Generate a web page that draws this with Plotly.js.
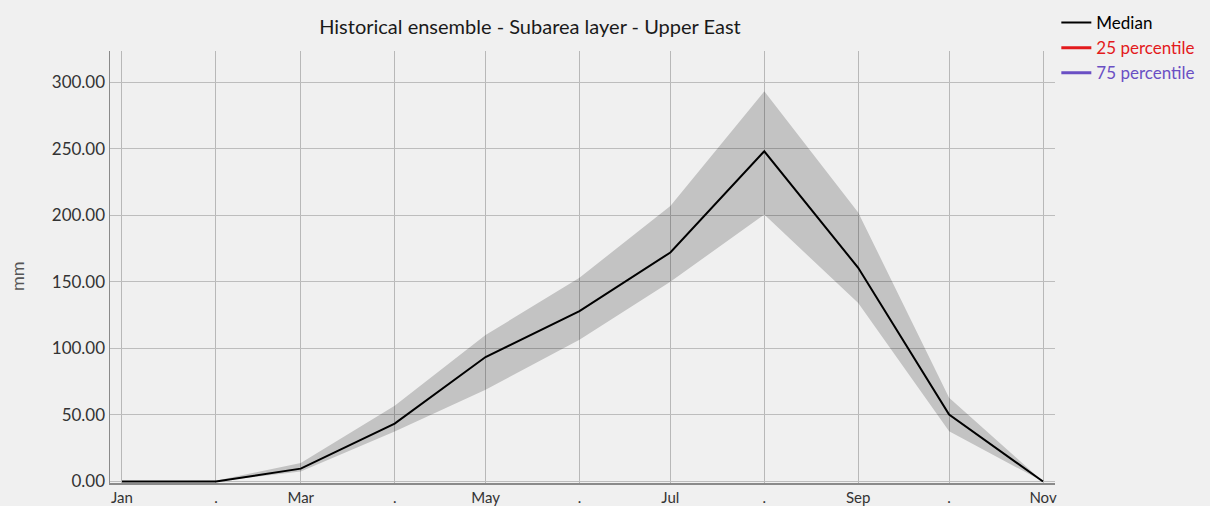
<!DOCTYPE html>
<html>
<head>
<meta charset="utf-8">
<script src="https://cdn.plot.ly/plotly-3.0.1.min.js"></script>
<style>html,body{margin:0;padding:0;background:#f0f0f0;}#chart{width:1210px;height:506px;}</style>
</head>
<body>
<div id="chart"></div>
<script>
// Month starts (date axis, days scale)
var months = ['2001-01-01','2001-02-01','2001-03-01','2001-04-01','2001-05-01','2001-06-01','2001-07-01','2001-08-01','2001-09-01','2001-10-01','2001-11-01'];
var tickLabels = ['Jan','.','Mar','.','May','.','Jul','.','Sep','.','Nov'];
var median = [0, 0, 9.7, 43.5, 93.5, 128, 172, 248, 160.5, 50.3, 0];
var p25 = [0, 0, 7.5, 37.5, 69, 106.5, 150, 200.5, 134, 37.7, 0];
var p75 = [0, 0.5, 14, 57, 110, 153, 207, 293, 202, 63, 0];
var yTicks = [0, 50, 100, 150, 200, 250, 300];

var traces = [
  {x: months, y: p25, type: 'scatter', mode: 'lines', line: {width: 0, color: 'rgba(0,0,0,0)'}, showlegend: false, hoverinfo: 'skip'},
  {x: months, y: p75, type: 'scatter', mode: 'lines', fill: 'tonexty', fillcolor: 'rgba(0,0,0,0.19)', line: {width: 0, color: 'rgba(0,0,0,0)'}, showlegend: false, hoverinfo: 'skip'},
  {x: months, y: median, type: 'scatter', mode: 'lines', name: 'Median', line: {color: '#000000', width: 2}},
  {x: [null], y: [null], type: 'scatter', mode: 'lines', name: '<span style="color:#e31a1c">25 percentile</span>', line: {color: '#e31a1c', width: 3}},
  {x: [null], y: [null], type: 'scatter', mode: 'lines', name: '<span style="color:#6a4fc4">75 percentile</span>', line: {color: '#6a4fc4', width: 3}}
];

var layout = {
  width: 1210, height: 506,
  paper_bgcolor: '#f0f0f0', plot_bgcolor: '#f0f0f0',
  font: {family: 'Lato, sans-serif', color: '#333'},
  margin: {l: 110, r: 155, t: 51, b: 23},
  title: {text: 'Historical ensemble - Subarea layer - Upper East', font: {family: 'Lato', size: 20, color: '#1a1a1a'}, x: 0.438, xanchor: 'center', xref: 'container', y: 0.947, yanchor: 'middle', yref: 'container'},
  xaxis: {
    type: 'date',
    range: ['2000-12-28 01:00', '2001-11-04 23:00'],
    tickmode: 'array', tickvals: months, ticktext: tickLabels,
    showgrid: true, gridcolor: '#b8b8b8', gridwidth: 1,
    showline: true, linecolor: '#8a8a8a', linewidth: 1.5,
    ticks: '', zeroline: false,
    tickfont: {family: 'Lato', size: 15, color: '#333'},
    fixedrange: true
  },
  yaxis: {
    range: [-1.1, 323.3],
    tickmode: 'array', tickvals: yTicks, tickformat: '.2f',
    showgrid: true, gridcolor: '#bdbdbd', gridwidth: 1,
    showline: true, linecolor: '#8a8a8a', linewidth: 1.5,
    ticks: '', zeroline: false, ticklabelstandoff: 0,
    tickfont: {family: 'Lato', size: 17, color: '#333'},
    fixedrange: true
  },
  annotations: [{
    text: 'mm', xref: 'paper', yref: 'paper', x: -0.0984, y: 0.479,
    xanchor: 'center', yanchor: 'middle', textangle: -90, showarrow: false,
    font: {family: 'Lato', size: 18, color: '#555'}
  }],
  legend: {
    xref: 'container', yref: 'container', x: 0.873, y: 0.99, xanchor: 'left', yanchor: 'top',
    bgcolor: 'rgba(0,0,0,0)', borderwidth: 0, traceorder: 'normal',
    font: {family: 'Lato', size: 17, color: '#000'},
    itemwidth: 30, tracegroupgap: 0
  },
  showlegend: true
};

Plotly.newPlot('chart', traces, layout, {displayModeBar: false, staticPlot: true});
</script>
</body>
</html>
